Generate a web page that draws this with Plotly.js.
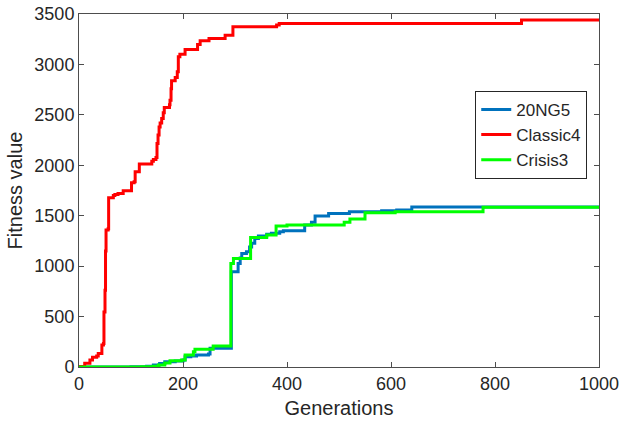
<!DOCTYPE html>
<html>
<head>
<meta charset="utf-8">
<script src="https://cdn.plot.ly/plotly-3.0.1.min.js"></script>
<style>html,body{margin:0;padding:0;background:#fff;}#chart{width:622px;height:423px;}</style>
</head>
<body>
<div id="chart"></div>
<script>
// Step-change points (generation, fitness value)
const seriesNames = ["20NG5", "Classic4", "Crisis3"];

const ng5Gen = [0, 100, 130, 143, 155, 165, 185, 200, 204, 215, 226, 249, 252, 293, 306, 310, 313, 322, 328, 332, 338, 345, 361, 370, 386, 393, 434, 447, 454, 480, 520, 582, 611, 640, 1000];
const ng5Val = [0, 3, 8, 20, 35, 53, 60, 69, 102, 110, 119, 129, 185, 945, 1027, 1080, 1126, 1143, 1190, 1226, 1275, 1298, 1315, 1325, 1340, 1351, 1407, 1434, 1496, 1523, 1540, 1550, 1556, 1586, 1586];

const classicGen = [0, 2, 11, 21, 26, 34, 37, 44, 47, 48, 50, 51, 52, 56, 57, 66, 69, 75, 85, 101, 106, 108, 116, 140, 143, 148, 150, 152, 154, 156, 159, 162, 164, 174, 175, 177, 178, 185, 189, 191, 194, 204, 228, 233, 250, 281, 296, 380, 385, 851, 1000];
const classicVal = [0, 5, 36, 69, 96, 109, 135, 218, 234, 545, 760, 1150, 1358, 1370, 1678, 1700, 1711, 1721, 1748, 1827, 1837, 1936, 2012, 2040, 2058, 2078, 2217, 2300, 2380, 2420, 2465, 2520, 2574, 2600, 2646, 2760, 2837, 2871, 2927, 3075, 3102, 3149, 3197, 3234, 3257, 3290, 3373, 3390, 3405, 3440, 3440];

const crisisGen = [0, 120, 143, 153, 165, 175, 197, 204, 220, 223, 258, 292, 297, 330, 361, 379, 400, 510, 521, 550, 608, 777, 1000];
const crisisVal = [0, 3, 8, 20, 40, 63, 70, 119, 152, 175, 208, 1027, 1077, 1285, 1308, 1397, 1407, 1434, 1467, 1529, 1540, 1585, 1585];

const xTicks = [0, 200, 400, 600, 800, 1000];
const yTicks = [0, 500, 1000, 1500, 2000, 2500, 3000, 3500];

const FONT = "Liberation Sans, Arial, sans-serif";
const TXT = "#262626";

const traces = [
  {x: ng5Gen, y: ng5Val, name: seriesNames[0], mode: "lines", line: {shape: "hv", color: "#0072BD", width: 3}},
  {x: classicGen, y: classicVal, name: seriesNames[1], mode: "lines", line: {shape: "hv", color: "#FF0000", width: 3}},
  {x: crisisGen, y: crisisVal, name: seriesNames[2], mode: "lines", line: {shape: "hv", color: "#00FF00", width: 3}}
];

const axisCommon = {
  showline: true, linecolor: "#4d4d4d", linewidth: 1, mirror: "ticks",
  ticks: "inside", ticklen: 5, tickcolor: "#4d4d4d", tickwidth: 1,
  showgrid: false, zeroline: false,
  tickfont: {family: FONT, size: 18, color: TXT}
};

const layout = {
  width: 622, height: 423,
  margin: {l: 79, r: 23, t: 14, b: 56},
  paper_bgcolor: "#fff", plot_bgcolor: "#fff",
  font: {family: FONT, color: TXT},
  xaxis: Object.assign({}, axisCommon, {
    range: [0, 1000], tickvals: xTicks, ticktext: xTicks.map(String),
    title: {text: "Generations", font: {family: FONT, size: 20, color: TXT}, standoff: 8}
  }),
  yaxis: Object.assign({}, axisCommon, {
    range: [0, 3500], tickvals: yTicks, ticktext: yTicks.map(String),
    title: {text: "Fitness value", font: {family: FONT, size: 20, color: TXT}, standoff: 6}
  }),
  showlegend: true,
  legend: {
    x: 0.762, y: 0.782, xanchor: "left", yanchor: "top",
    bgcolor: "#fff", bordercolor: "#262626", borderwidth: 1,
    font: {family: FONT, size: 17, color: TXT},
    tracegroupgap: 0, itemwidth: 30
  }
};

Plotly.newPlot("chart", traces, layout, {staticPlot: true, displayModeBar: false});
</script>
</body>
</html>
